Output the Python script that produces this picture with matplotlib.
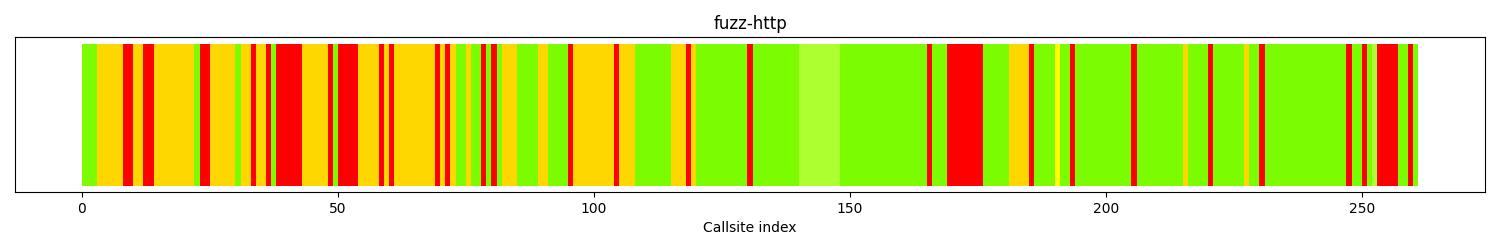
import matplotlib
matplotlib.use("Agg")
import matplotlib.pyplot as plt
import numpy as np

# Status runs along callsites (code, number of consecutive callsites)
run_codes = ["G", "O", "R", "O", "R", "O", "G", "R", "O", "G", "O", "R", "O", "R", "G",
             "R", "O", "R", "G", "R", "O", "R", "O", "R", "O", "R", "O", "R", "O", "G",
             "O", "G", "R", "G", "R", "G", "O", "G", "O", "G", "R", "O", "R", "O", "G",
             "O", "R", "O", "G", "R", "G", "L", "G", "R", "G", "R", "G", "O", "R", "G",
             "Y", "G", "R", "G", "R", "G", "O", "G", "R", "G", "O", "G", "R", "G", "R",
             "G", "R", "G", "L", "R", "G", "R", "G"]
run_lengths = [3, 5, 2, 2, 2, 8, 1, 2, 5, 1, 2, 1, 2, 1, 1,
               5, 5, 1, 1, 4, 4, 1, 1, 1, 8, 1, 1, 1, 1, 2,
               1, 2, 1, 1, 1, 1, 3, 4, 2, 4, 1, 8, 1, 3, 7,
               3, 1, 1, 10, 1, 9, 8, 17, 1, 3, 7, 5, 4, 1, 4,
               1, 2, 1, 11, 1, 9, 1, 4, 1, 6, 1, 2, 1, 16, 1,
               2, 1, 1, 1, 4, 2, 1, 1]

code_colors = {"G": "#7CFC00", "O": "#FFD700", "R": "#FF0000",
               "L": "#ADFF2F", "Y": "#FFFF00"}

statuses = [c for c, n in zip(run_codes, run_lengths) for _ in range(n)]
x = np.arange(len(statuses))
colors = [code_colors[s] for s in statuses]

fig = plt.figure(figsize=(15, 2.5), dpi=100)
ax = fig.add_axes([0.01, 0.232, 0.98, 0.62])
ax.bar(x, np.ones(len(x)), width=1.0, align="edge", color=colors, linewidth=0)
ax.set_xlim(-0.05 * len(x), len(x) * 1.05)
ax.set_ylim(-0.045, 1.05)
ax.set_yticks([])
ax.set_title("fuzz-http")
ax.set_xlabel("Callsite index")
fig.savefig("out.png", dpi=100)
